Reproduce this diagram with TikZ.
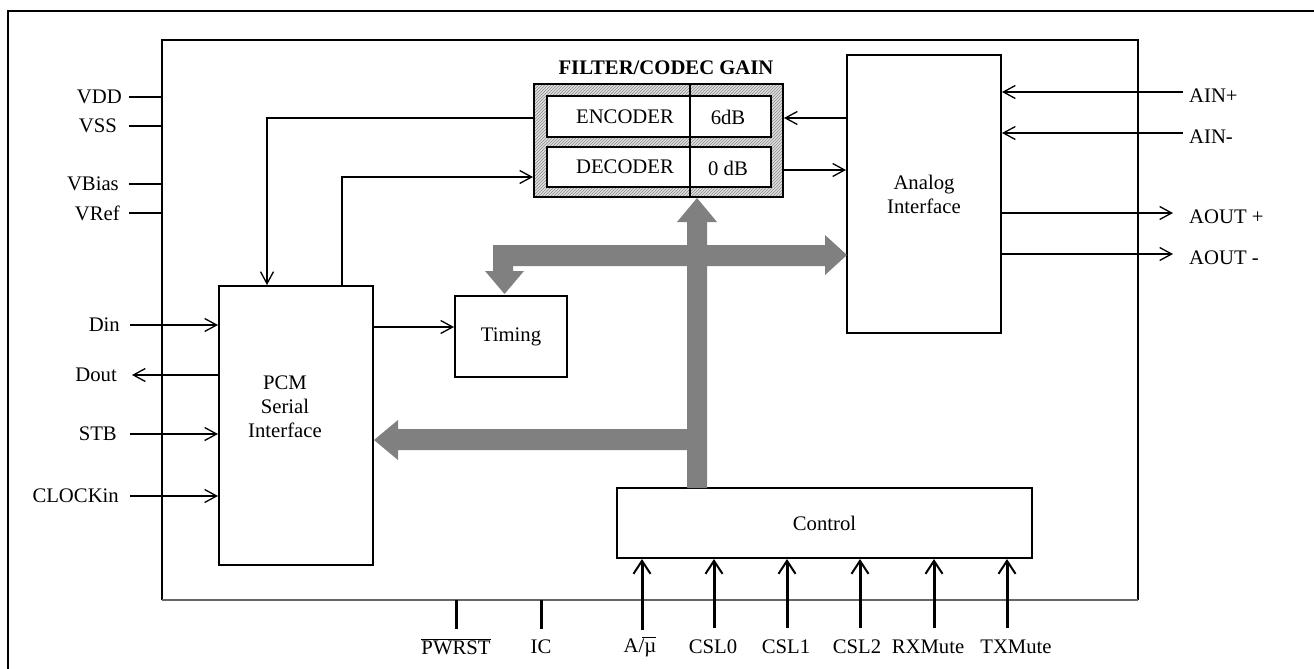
\documentclass[tikz,border=0pt]{standalone}
\usepackage{fontspec}
\setmainfont{Liberation Serif}
\usetikzlibrary{arrows.meta,patterns}
\definecolor{busgray}{HTML}{808080}
\begin{document}
\begin{tikzpicture}[x=1pt,y=-1pt,
  font=\fontsize{20.7}{24}\selectfont,
  ln/.style={line width=2pt},
  box/.style={draw,line width=2pt,inner sep=0pt},
  arr/.style={line width=2pt,-{Straight Barb[length=12pt,width=13pt,line width=1.3pt]}},
  carr/.style={line width=3pt,-{Straight Barb[length=13pt,width=17pt,line width=2pt]}},
  pinl/.style={anchor=east,inner sep=0pt},
  pinr/.style={anchor=west,inner sep=0pt},
  pinb/.style={inner sep=0pt},
  bus/.style={fill=busgray}
]
\useasboundingbox (0,0) rectangle (1314,669);
% outer frame
\draw[ln] (8,669) -- (8,11) -- (1314,11);
% chip
\node[minimum width=976pt,minimum height=560pt,inner sep=0pt] (chip) at (650,320) {};
\draw[ln] (chip.south west) -- (chip.north west) -- (chip.north east) -- (chip.south east);
\draw[line width=1.5pt,gray!80!black] (chip.south west) -- (chip.south east);

% blocks
\node[box,minimum width=154pt,minimum height=279pt] (pcm) at (296,425.5) {};
\node[align=center,inner sep=0pt] (pcmlabel) at (285,407) {PCM\\Serial\\Interface};
\node[box,minimum width=112pt,minimum height=81pt] (timing) at (511,336.5) {Timing};
\node[box,minimum width=154pt,minimum height=278pt,align=center] (analog) at (924,194) {Analog\\Interface};
\node[box,minimum width=415pt,minimum height=70pt] (control) at (824.5,523) {Control};

% filter/codec gain
\node[font=\fontsize{20.7}{24}\selectfont\bfseries,inner sep=0pt] (title) at (666,68) {FILTER/CODEC GAIN};
\node[box,minimum width=249pt,minimum height=113pt,preaction={fill=gray!25},pattern=north east lines,pattern color=gray!90] (filt) at (658.5,140.5) {};
\node[box,fill=white,minimum width=224pt,minimum height=41pt] (enc) at (659,116.5) {};
\node[box,fill=white,minimum width=224pt,minimum height=40pt] (dec) at (659,167) {};
\draw[ln] ([xshift=31.5pt]filt.north) -- ([xshift=31.5pt]filt.south);
\node[inner sep=0pt] (enclabel) at (625,117) {ENCODER};
\node[inner sep=0pt] (encgain) at (728,117) {6dB};
\node[inner sep=0pt] (declabel) at (625,167) {DECODER};
\node[inner sep=0pt] (decgain) at (728,168) {0 dB};

% internal connectors
\draw[arr] (analog.west |- 0,118) -- (filt.east |- 0,118);
\draw[arr] (filt.east |- 0,170) -- (analog.west |- 0,170);
\draw[arr] (filt.west |- 0,118) -| ([xshift=-29pt]pcm.north);
\draw[arr] ([xshift=46pt]pcm.north) |- (filt.west |- 0,177);
\draw[arr] (pcm.east |- 0,327) -- (timing.west |- 0,327);

% bus
\fill[bus] (687,488) -- (687,222) -- (677,222) -- (697,198) -- (717,222) -- (707,222) -- (707,488) -- cycle;
\fill[bus] (825,245) -- (825,235) -- (847,255) -- (825,275) -- (825,266) -- (513,266) -- (513,271)
  -- (524,271) -- (504.5,294) -- (485,271) -- (493,271) -- (493,245) -- cycle;
\fill[bus] (697,429) -- (398,429) -- (398,420) -- (374,440) -- (398,460) -- (398,450) -- (697,450) -- cycle;

% left supply pins
\node[pinl] (vdd) at (122,97) {VDD};
\node[pinl] (vss) at (117,126) {VSS};
\node[pinl] (vbias) at (119,184) {VBias};
\node[pinl] (vref) at (120,213) {VRef};
\draw[ln] ([xshift=7pt]vdd.east) -- (vdd.east -| chip.west);
\draw[ln] ([xshift=12pt]vss.east) -- (vss.east -| chip.west);
\draw[ln] ([xshift=10pt]vbias.east) -- (vbias.east -| chip.west);
\draw[ln] ([xshift=9pt]vref.east) -- (vref.east -| chip.west);

% left PCM pins
\node[pinl] (din) at (120,325) {Din};
\node[pinl] (dout) at (117,375) {Dout};
\node[pinl] (stb) at (117,434) {STB};
\node[pinl] (clk) at (119,496) {CLOCKin};
\draw[arr] ([xshift=10pt]din.east) -- (din.east -| pcm.west);
\draw[arr] (dout.east -| pcm.west) -- ([xshift=15pt]dout.east);
\draw[arr] ([xshift=13pt]stb.east) -- (stb.east -| pcm.west);
\draw[arr] ([xshift=11pt]clk.east) -- (clk.east -| pcm.west);

% right pins
\node[pinr] (ainp) at (1189,96) {AIN+};
\node[pinr] (ainm) at (1189,137) {AIN-};
\node[pinr] (aoutp) at (1189,217) {AOUT +};
\node[pinr] (aoutm) at (1189,258) {AOUT -};
\draw[arr] ([xshift=-6pt]ainp.west |- 0,92) -- (analog.east |- 0,92);
\draw[arr] ([xshift=-6pt]ainm.west |- 0,133) -- (analog.east |- 0,133);
\draw[arr] (analog.east |- 0,213) -- ([xshift=-16pt]aoutp.west |- 0,213);
\draw[arr] (analog.east |- 0,254) -- ([xshift=-16pt]aoutm.west |- 0,254);

% bottom pins
\node[pinb] (pwrst) at (456,647) {$\overline{\hbox{PWRST}}$};
\node[pinb] (ic) at (541,647) {IC};
\draw[line width=3pt] (pwrst.north |- chip.south) -- (pwrst.north |- 0,629);
\draw[line width=3pt] (ic.north |- chip.south) -- (ic.north |- 0,629);

\node[pinb] (amu) at (640,647) {A/\kern-2pt$\overline{\hbox{\kern2pt µ\vphantom{A}}}$};
\node[pinb] (csl0) at (713,647) {CSL0};
\node[pinb] (csl1) at (786,647) {CSL1};
\node[pinb] (csl2) at (857,647) {CSL2};
\node[pinb] (rxm) at (928,647) {RXMute};
\node[pinb] (txm) at (1016,647) {TXMute};
\draw[carr] (642,630) -- (control.south -| 642,0);
\draw[carr] (714,628) -- (control.south -| 714,0);
\draw[carr] (787,628) -- (control.south -| 787,0);
\draw[carr] (860,628) -- (control.south -| 860,0);
\draw[carr] (934,628) -- (control.south -| 934,0);
\draw[carr] (1007,628) -- (control.south -| 1007,0);
\end{tikzpicture}
\end{document}
